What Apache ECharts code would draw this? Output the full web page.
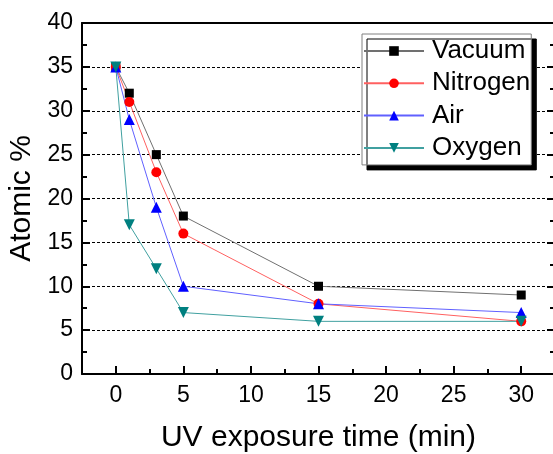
<!DOCTYPE html>
<html><head><meta charset="utf-8">
<script src="https://cdn.jsdelivr.net/npm/echarts@6/dist/echarts.min.js"></script>
<style>html,body{margin:0;padding:0;background:#fff}#c{width:553px;height:454px}</style>
</head><body><div id="c"></div>
<script>
const times = [0, 1, 3, 5, 15, 30];
const vacuum = [35, 32, 25, 18, 10, 9];
const nitrogen = [35, 31, 23, 16, 8, 6];
const air = [35, 29, 19, 10, 8, 7];
const oxygen = [35, 17, 12, 7, 6, 6];
const xMajorTicks = [0, 5, 10, 15, 20, 25, 30];
const seriesNames = ['Vacuum', 'Nitrogen', 'Air', 'Oxygen'];

const FONT = 'Liberation Sans, Arial, sans-serif';
const pair = arr => times.map((t, i) => [t, arr[i]]);

const chart = echarts.init(document.getElementById('c'), null, {renderer: 'canvas'});
const mk = (name, data, lineColor, symColor, symbol, size, rot) => ({
  name, type: 'line', data: pair(data), symbol, symbolSize: size, symbolRotate: rot || 0,
  lineStyle: {color: lineColor, width: 1}, itemStyle: {color: symColor},
  emphasis: {disabled: true}, animation: false, z: 3
});
chart.setOption({
  animation: false,
  grid: {left: 82, top: 23, width: 473, height: 351, containLabel: false, outerBoundsMode: 'none'},
  legend: {
    left: 362, top: 34, orient: 'vertical', data: seriesNames,
    itemWidth: 60, itemHeight: 12, itemGap: 6.3,
    padding: [4, 1, 4, 1],
    backgroundColor: '#fff', borderColor: '#808080', borderWidth: 1,
    shadowColor: '#000', shadowBlur: 0, shadowOffsetX: 5, shadowOffsetY: 5,
    textStyle: {fontFamily: FONT, fontSize: 26, color: '#000', lineHeight: 26, padding: [0, 0, 0, 3]}
  },
  xAxis: [{
    type: 'value', min: -2.5, max: 32.5, interval: 2.5,
    axisLine: {show: true, onZero: false, lineStyle: {color: '#000', width: 2}},
    axisTick: {show: true, inside: true, length: 5, lineStyle: {color: '#000', width: 2}},
    axisLabel: {fontFamily: FONT, fontSize: 23, color: '#000', margin: 10,
      formatter: v => (Math.abs(v % 5) < 1e-9 && v >= 0 && v <= 30) ? String(v) : ''},
    splitLine: {show: false},
    name: 'UV exposure time (min)', nameLocation: 'middle', nameGap: 49,
    nameTextStyle: {fontFamily: FONT, fontSize: 30, color: '#000'}
  }, {
    type: 'value', min: -2.5, max: 32.5, position: 'bottom', gridIndex: 0,
    axisLine: {show: false},
    axisTick: {show: true, inside: true, length: 8, customValues: xMajorTicks, lineStyle: {color: '#000', width: 2}},
    axisLabel: {show: false}, splitLine: {show: false}
  }, {
    type: 'value', min: -2.5, max: 32.5, position: 'top', gridIndex: 0,
    axisLine: {show: true, onZero: false, lineStyle: {color: '#000', width: 2}},
    axisTick: {show: false}, axisLabel: {show: false}, splitLine: {show: false}
  }],
  yAxis: [{
    type: 'value', min: 0, max: 40, interval: 5,
    axisLine: {show: true, onZero: false, lineStyle: {color: '#000', width: 2}},
    axisTick: {show: true, inside: true, length: 8, lineStyle: {color: '#000', width: 2}},
    minorTick: {show: true, splitNumber: 2, length: 5, lineStyle: {color: '#000', width: 2}},
    axisLabel: {fontFamily: FONT, fontSize: 23, color: '#000', margin: 9},
    splitLine: {show: true, lineStyle: {color: '#000', width: 1, type: [3, 2]}},
    name: 'Atomic %', nameLocation: 'middle', nameGap: 42,
    nameTextStyle: {fontFamily: FONT, fontSize: 30, color: '#000'}
  }, {
    type: 'value', min: 0, max: 40, interval: 5, position: 'right',
    axisLine: {show: true, onZero: false, lineStyle: {color: '#000', width: 2}},
    axisTick: {show: true, inside: true, length: 8, lineStyle: {color: '#000', width: 2}},
    minorTick: {show: true, splitNumber: 2, length: 5, lineStyle: {color: '#000', width: 2}},
    axisLabel: {show: false}, splitLine: {show: false}
  }],
  series: [
    mk('Vacuum', vacuum, '#707070', '#000', 'rect', 9),
    mk('Nitrogen', nitrogen, '#ff6060', '#ff0000', 'circle', 10),
    mk('Air', air, '#6060ff', '#0000ff', 'triangle', 11),
    mk('Oxygen', oxygen, '#40a0a0', '#008080', 'triangle', 11, 180)
  ]
});
</script></body></html>
